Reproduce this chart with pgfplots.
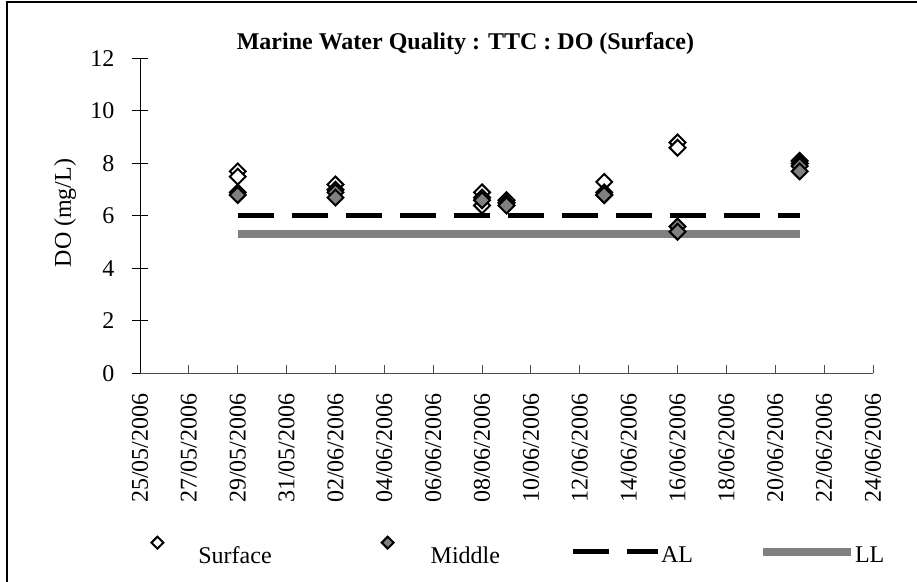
\documentclass[border=0pt]{standalone}
\usepackage{fontspec}
\setmainfont{Liberation Serif}
\usepackage{pgfplots}
\pgfplotsset{compat=1.18}
\definecolor{grey}{RGB}{128,128,128}
\newcommand{\f}{\fontsize{12}{14.4}\selectfont}

% legend images, with the spacing of the reference's legend row
\pgfplotsset{
  legsurf/.style={legend image code/.code={\path[draw=none,fill=none] (-8.5pt,-5pt) rectangle (20.5pt,9pt);
    \draw[##1, mark size=2.1pt] plot coordinates {(0pt,6.8pt)};}},
  legmid/.style={legend image code/.code={\path[draw=none,fill=none] (-58pt,-5pt) rectangle (21.5pt,9pt);
    \draw[##1, mark size=2.1pt] plot coordinates {(0pt,6.8pt)};}},
  legal/.style={legend image code/.code={\path[draw=none,fill=none] (-36.5pt,-5pt) rectangle (44pt,5pt);
    \draw[##1] (0pt,2.3pt) -- (42.5pt,2.3pt);}},
  legll/.style={legend image code/.code={\path[draw=none,fill=none] (-35pt,-5pt) rectangle (45pt,5pt);
    \draw[##1] (0pt,2.3pt) -- (44pt,2.3pt);}},
}

\begin{document}
\begin{tikzpicture}
\useasboundingbox (0,0) rectangle (458.5pt,-291pt);
\draw[line width=0.75pt] (3.5pt,-291pt) -- (3.5pt,-1pt) -- (458.5pt,-1pt);
\begin{axis}[
  at={(70pt,-186.75pt)}, anchor=south west,
  scale only axis, width=366.5pt, height=157.5pt,
  xmin=0, xmax=30, ymin=0, ymax=12,
  axis x line*=bottom, axis y line*=left,
  axis line style={line width=0.5pt, black},
  x axis line style={black!70},
  xtick={0,2,...,30},
  xticklabels={25/05/2006,27/05/2006,29/05/2006,31/05/2006,02/06/2006,04/06/2006,06/06/2006,08/06/2006,10/06/2006,12/06/2006,14/06/2006,16/06/2006,18/06/2006,20/06/2006,22/06/2006,24/06/2006},
  ytick={0,2,...,12},
  xtick align=inside, ytick align=center,
  major tick length=7.5pt,
  xtick style={/pgfplots/major tick length=4pt, line width=0.5pt, black!70},
  ytick style={line width=0.5pt, black},
  /pgf/number format/assume math mode=true,
  tick label style={font=\f},
  xticklabel style={rotate=90, anchor=east, xshift=-6.5pt},
  yticklabel style={xshift=-5.5pt},
  every axis title shift=0pt,
  title={Marine Water Quality : TTC : DO (Surface)},
  title style={font=\f\bfseries, at={(axis description cs:0.444,1.046)}, anchor=center, yshift=0pt},
  ylabel={DO (mg/L)},
  ylabel style={font=\f, at={(axis description cs:-0.1023,0.5095)}, anchor=center},
  legend columns=4,
  legend style={draw=none, fill=none, inner sep=0pt, column sep=0pt,
    nodes={inner sep=0pt, text depth=0.15em, font=\f},
    at={(axis description cs:0,-0.565)}, anchor=west},
  clip=false,
]
% limit lines (drawn first, below the markers)
\addplot[forget plot, black, line width=2.5pt, dash pattern=on 18pt off 9pt] coordinates {(4,6) (27,6)};
\addplot[forget plot, grey, line width=4pt] coordinates {(4,5.3) (27,5.3)};

\addplot[only marks, mark=square*, mark size=2.8pt,
  mark options={rotate=45, draw=black, fill=white, line width=1pt}, legsurf]
  coordinates {
  (4,7.7) (4,7.5)
  (8,7.2) (8,7.0)
  (14,6.9) (14,6.4)
  (15,6.6) (15,6.5)
  (19,7.3) (19,6.8)
  (22,8.8) (22,8.6)
  (27,8.1) (27,8.0)
};
\addlegendentry{Surface}

\addplot[only marks, mark=square*, mark size=2.8pt,
  mark options={rotate=45, draw=black, fill=grey, line width=1pt}, legmid]
  coordinates {
  (4,6.9) (4,6.8)
  (8,6.9) (8,6.7)
  (14,6.7) (14,6.6)
  (15,6.5) (15,6.4)
  (19,6.9) (19,6.8)
  (22,5.6) (22,5.4)
  (27,7.9) (27,7.7)
};
\addlegendentry{Middle}

\addlegendimage{black, line width=2.5pt, dash pattern=on 18pt off 9pt, legal}
\addlegendentry{AL}
\addlegendimage{grey, line width=4pt, legll}
\addlegendentry{LL}
\end{axis}
\end{tikzpicture}
\end{document}
